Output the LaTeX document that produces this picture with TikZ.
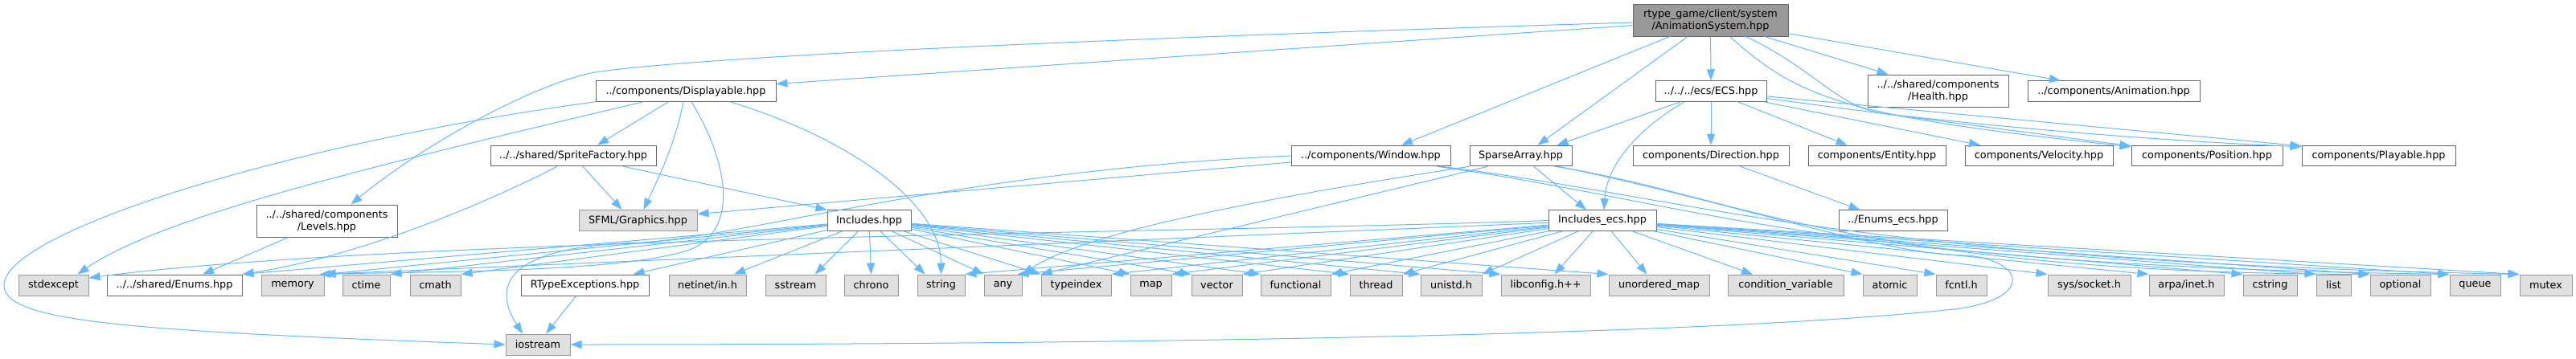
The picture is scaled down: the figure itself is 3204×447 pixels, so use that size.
\documentclass[tikz,border=0pt]{standalone}
\usepackage{fontspec}
\setmainfont{DejaVu Sans}
\usetikzlibrary{arrows.meta}
\definecolor{edgec}{HTML}{63B8FF}
\definecolor{leaff}{HTML}{E0E0E0}
\definecolor{leafd}{HTML}{999999}
\definecolor{whited}{HTML}{666666}
\definecolor{mainf}{HTML}{999999}
\begin{document}
\begin{tikzpicture}[x=1pt,y=-1pt,
  base/.style={rectangle, inner sep=0pt, line width=1pt, font=\fontsize{12.8}{15}\selectfont, align=center, text=black},
  wbox/.style={base, draw=whited, fill=white, minimum height=25.5pt},
  gbox/.style={base, draw=leafd, fill=leaff, minimum height=26pt},
  mbox/.style={base, draw=whited, fill=mainf, minimum height=40pt},
  dep/.style={draw=edgec, line width=1pt, -{Triangle[length=14pt,width=10pt]}},
]
\useasboundingbox (0,0) rectangle (3204,447);

% row 0
\node[mbox, minimum width=193pt] (m) at (2127.5,25) {rtype\_game/client/system\\/AnimationSystem.hpp};
% row 1
\node[wbox, minimum width=224pt] (disp) at (853,113.5) {../components/Displayable.hpp};
\node[wbox, minimum width=138pt] (ecs) at (2128,113.5) {../../../ecs/ECS.hpp};
\node[wbox, minimum width=175pt, minimum height=40pt] (health) at (2410.5,113) {../../shared/components\\/Health.hpp};
\node[wbox, minimum width=214pt] (anim) at (2629,113.5) {../components/Animation.hpp};
% row 2
\node[wbox, minimum width=206pt] (sf) at (713,194) {../../shared/SpriteFactory.hpp};
\node[wbox, minimum width=198pt] (win) at (1705,194) {../components/Window.hpp};
\node[wbox, minimum width=127pt] (sp) at (1891.5,194) {SparseArray.hpp};
\node[wbox, minimum width=194pt] (dir) at (2128,194) {components/Direction.hpp};
\node[wbox, minimum width=171pt] (ent) at (2334.5,194) {components/Entity.hpp};
\node[wbox, minimum width=184pt] (vel) at (2536,194) {components/Velocity.hpp};
\node[wbox, minimum width=188pt] (pos) at (2745,194) {components/Position.hpp};
\node[wbox, minimum width=191pt] (pl) at (2958.5,194) {components/Playable.hpp};
% row 3
\node[wbox, minimum width=175pt, minimum height=40pt] (lev) at (406.5,275) {../../shared/components\\/Levels.hpp};
\node[gbox, minimum width=147pt] (sfml) at (793.5,274.5) {SFML/Graphics.hpp};
\node[wbox, minimum width=104pt] (inc) at (1081,274.5) {Includes.hpp};
\node[wbox, minimum width=134pt] (ince) at (1993,274.5) {Includes\_ecs.hpp};
\node[wbox, minimum width=135pt] (enumsecs) at (2354.5,274.5) {../Enums\_ecs.hpp};
% row 4
\node[gbox, minimum width=87pt] (lstdx) at (66.5,355) {stdexcept};
\node[wbox, minimum width=168pt, minimum height=26pt] (enums) at (217,355) {../../shared/Enums.hpp};
\node[gbox, minimum width=78pt] (lmem) at (364,355) {memory};
\node[gbox, minimum width=59pt] (lctime) at (455.5,355) {ctime};
\node[gbox, minimum width=63pt] (lcmath) at (541.5,355) {cmath};
\node[wbox, minimum width=159pt, minimum height=26pt] (rtex) at (727.5,355) {RTypeExceptions.hpp};
\node[gbox, minimum width=96pt] (lnet) at (880,355) {netinet/in.h};
\node[gbox, minimum width=75pt] (lsstream) at (989.5,355) {sstream};
\node[gbox, minimum width=67pt] (lchrono) at (1083.5,355) {chrono};
\node[gbox, minimum width=59pt] (lstring) at (1170.5,355) {string};
\node[gbox, minimum width=47pt] (lany) at (1247.5,355) {any};
\node[gbox, minimum width=87pt] (ltix) at (1338.5,355) {typeindex};
\node[gbox, minimum width=51pt] (lmap) at (1431.5,355) {map};
\node[gbox, minimum width=63pt] (lvec) at (1513.5,355) {vector};
\node[gbox, minimum width=87pt] (lfunc) at (1611.5,355) {functional};
\node[gbox, minimum width=65pt] (lthread) at (1711.5,355) {thread};
\node[gbox, minimum width=76pt] (lunistd) at (1805,355) {unistd.h};
\node[gbox, minimum width=111pt] (llibc) at (1922.5,355) {libconfig.h++};
\node[gbox, minimum width=125pt] (lumap) at (2063.5,355) {unordered\_map};
\node[gbox, minimum width=144pt] (lcond) at (2221,355) {condition\_variable};
\node[gbox, minimum width=67pt] (latomic) at (2350.5,355) {atomic};
\node[gbox, minimum width=63pt] (lfcntl) at (2439.5,355) {fcntl.h};
\node[gbox, minimum width=103pt] (lsock) at (2598.5,355) {sys/socket.h};
\node[gbox, minimum width=93pt] (larpa) at (2719.5,355) {arpa/inet.h};
\node[gbox, minimum width=67pt] (lcstr) at (2823.5,355) {cstring};
\node[gbox, minimum width=43pt] (llist) at (2902.5,355) {list};
\node[gbox, minimum width=75pt] (lopt) at (2985.5,355) {optional};
\node[gbox, minimum width=63pt] (lqueue) at (3078.5,355) {queue};
\node[gbox, minimum width=65pt] (lmutex) at (3166.5,355) {mutex};
% row 5
\node[gbox, minimum width=80pt] (ios) at (669,429) {iostream};

% main edges
\draw[dep] (m) -- ([yshift=9pt]disp.east);
\draw[dep] ([yshift=-3pt]m.west) .. controls (1300,50) and (860,72) .. (740,90) .. controls (660,105) and (520,185) .. ([xshift=30pt]lev.north);
\draw[dep] (m) -- ([xshift=38pt]win.north);
\draw[dep] (m) -- ([xshift=21pt]sp.north);
\draw[dep] (m) -- (ecs);
\draw[dep] ([xshift=24pt]m.south) .. controls (2240,125) and (2300,145) .. ([yshift=-2pt]pos.north west);
\draw[dep] ([xshift=44pt]m.south) .. controls (2255,85) and (2285,132) .. (2340,141) .. controls (2500,160) and (2700,176) .. ([yshift=-2pt]pl.north west);
\draw[dep] (m) -- ([xshift=-62pt]health.north);
\draw[dep] (m) -- ([xshift=-66pt]anim.north);

% ECS edges
\draw[dep] (ecs) -- ([xshift=45pt]sp.north);
\draw[dep] ([xshift=-33pt]ecs.south) .. controls (2030,165) and (1998,210) .. ([xshift=2pt]ince.north);
\draw[dep] (ecs) -- (dir);
\draw[dep] (ecs) -- ([xshift=-37pt]ent.north);
\draw[dep] (ecs) -- ([xshift=-73pt]vel.north);
\draw[dep] (ecs) -- ([yshift=-1pt]pos.north west);
\draw[dep] (ecs) -- ([yshift=-1pt]pl.north west);
\draw[dep] (dir) -- ([xshift=-41pt]enumsecs.north);

% Displayable edges
\draw[dep] (disp.south west) .. controls (350,180) and (5,290) .. (5,355) .. controls (5,400) and (150,412) .. (ios.west);
\draw[dep] ([xshift=-53pt]disp.south) .. controls (450,210) and (200,270) .. ([xshift=30pt]lstdx.north);
\draw[dep] (disp) -- ([xshift=30pt]sf.north);
\draw[dep] ([xshift=-3pt]disp.south) .. controls (840,180) and (815,230) .. ([xshift=7pt]sfml.north);
\draw[dep] ([xshift=7pt]disp.south) .. controls (905,200) and (920,285) .. (860,310) .. controls (780,340) and (520,338) .. (lmem.north east);
\draw[dep] ([xshift=55pt]disp.south) .. controls (1050,170) and (1170,250) .. (lstring.north);

% SpriteFactory, Levels
\draw[dep] (sf) -- ([xshift=-20pt]sfml.north);
\draw[dep] (sf) -- (inc.north west);
\draw[dep] ([xshift=-20pt]sf.south) .. controls (600,255) and (450,318) .. (enums.north east);
\draw[dep] (lev) -- ([xshift=35pt]enums.north);

% Window
\draw[dep] ([yshift=-8pt]win.west) -- ([yshift=8pt]sfml.east);
\draw[dep] (win.west) .. controls (1200,212) and (950,290) .. (800,302) .. controls (650,305) and (605,345) .. ([xshift=-19pt]ios.north);
\draw[dep] ([xshift=82pt]win.south) .. controls (2100,250) and (2250,330) .. (lqueue.north west);
\draw[dep] ([xshift=87pt]win.south) .. controls (2100,245) and (2300,325) .. (lmutex.north west);

% SparseArray
\draw[dep] (sp) -- ([xshift=-20pt]ince.north);
\draw[dep] (sp.south west) .. controls (1550,250) and (1350,290) .. (lany.north east);
\draw[dep] ([xshift=-41pt]sp.south) -- (ltix.north west);
\draw[dep] ([xshift=42pt]sp.south) .. controls (2150,240) and (2300,340) .. (lopt.north west);
\draw[dep] ([xshift=46pt]sp.south) .. controls (2150,250) and (2350,320) .. (2450,318) .. controls (2530,330) and (2520,378) .. (2420,386) .. controls (2100,420) and (1300,429) .. (ios.east);

% RTypeExceptions
\draw[dep] (rtex) -- ([xshift=10pt]ios.north);

% Includes.hpp
\draw[dep] (inc) -- (enums.north east);
\draw[dep] (inc) -- (lmem.north east);
\draw[dep] (inc) -- (lctime.north east);
\draw[dep] (inc) -- (lcmath.north east);
\draw[dep] (inc) -- ([xshift=-20pt]rtex.north east);
\draw[dep] (inc) -- ([xshift=33pt]lnet.north);
\draw[dep] (inc) -- ([xshift=24pt]lsstream.north);
\draw[dep] (inc) -- (lchrono.north);
\draw[dep] (inc) -- ([xshift=-20pt]lstring.north);
\draw[dep] (inc) -- (lany.north west);
\draw[dep] (inc) -- (ltix.north west);
\draw[dep] (inc) -- (lmap.north west);
\draw[dep] (inc) -- (lvec.north west);
\draw[dep] (inc) -- (lfunc.north west);
\draw[dep] (inc) -- (lthread.north west);
\draw[dep] (inc) -- (lunistd.north west);
\draw[dep] (inc) -- (llibc.north west);
\draw[dep] (inc) -- (lumap.north west);

% Includes_ecs.hpp
\draw[dep] (ince.west) .. controls (1500,290) and (500,295) .. ([yshift=9pt]lstdx.east);
\draw[dep] (ince) -- ([xshift=-6pt]lmem.north east);
\draw[dep] (ince) -- (lstring.north east);
\draw[dep] (ince) -- ([xshift=-6pt]lany.north east);
\draw[dep] (ince) -- (ltix.north east);
\draw[dep] (ince) -- (lmap.north east);
\draw[dep] (ince) -- (lvec.north east);
\draw[dep] (ince) -- (lfunc.north east);
\draw[dep] (ince) -- (lthread.north east);
\draw[dep] (ince) -- (lunistd.north east);
\draw[dep] (ince) -- ([xshift=11pt]llibc.north);
\draw[dep] (ince) -- ([xshift=-15pt]lumap.north);
\draw[dep] (ince) -- ([xshift=-41pt]lcond.north);
\draw[dep] (ince) -- (latomic.north west);
\draw[dep] (ince) -- (lfcntl.north west);
\draw[dep] (ince) -- (lsock.north west);
\draw[dep] (ince) -- (larpa.north west);
\draw[dep] (ince) -- (lcstr.north west);
\draw[dep] (ince) -- (llist.north west);
\draw[dep] (ince) -- (lopt.north west);
\draw[dep] (ince) -- (lqueue.north west);
\draw[dep] (ince) -- (lmutex.north west);
\end{tikzpicture}
\end{document}
